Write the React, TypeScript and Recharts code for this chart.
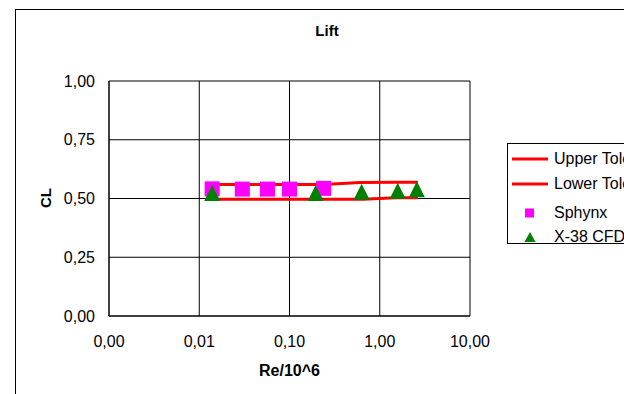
// Lift — CL ueber Re/10^6 (log), Toleranzband + Sphynx + X-38 CFD
import {
  ScatterChart, Scatter, XAxis, YAxis, CartesianGrid,
} from 'recharts'

// Reynolds-Zahlen (Re/10^6) und CL-Werte
const upperRe = [0.0125, 0.24, 0.6, 1.6, 2.65]
const upperCl = [0.56, 0.56, 0.568, 0.569, 0.569]
const lowerRe = [0.0125, 0.65, 1.5, 2.65]
const lowerCl = [0.497, 0.497, 0.503, 0.503]
const sphynxRe = [0.0139, 0.03, 0.057, 0.1, 0.239]
const sphynxCl = [0.541, 0.54, 0.54, 0.54, 0.543]
const cfdRe = [0.0139, 0.195, 0.63, 1.58, 2.58]
const cfdCl = [0.523, 0.523, 0.529, 0.533, 0.539]

const xTicks = [0.001, 0.01, 0.1, 1, 10]
const yTicks = [0, 0.25, 0.5, 0.75, 1]

const FONT = '"Liberation Sans", Arial, sans-serif'
const RED = '#ff0000'
const MAGENTA = '#ff00ff'
const GREEN = '#008000'

const toPoints = (xs: number[], ys: number[]) => xs.map((x, i) => ({ x, y: ys[i] }))
const fmt = (v: number) => v.toFixed(2).replace('.', ',')

const Square = (props: any) => {
  const { cx, cy } = props
  const s = 15
  return <rect x={cx - s / 2} y={cy - s / 2} width={s} height={s} fill={MAGENTA} />
}

const Triangle = (props: any) => {
  const { cx, cy } = props
  const w = 16
  const h = 16
  return (
    <polygon
      points={`${cx},${cy - h / 2} ${cx + w / 2},${cy + h / 2} ${cx - w / 2},${cy + h / 2}`}
      fill={GREEN}
    />
  )
}

const NoShape = () => <g />

const legendItems = [
  { name: 'Upper Tolerance', kind: 'line' },
  { name: 'Lower Tolerance', kind: 'line' },
  { name: 'Sphynx', kind: 'square' },
  { name: 'X-38 CFD', kind: 'triangle' },
]
const rowY = [15, 40, 69, 93]

// Legende als eigener Kasten, ragt wie im Original ueber den rechten Rand
const LegendBox = () => (
  <div style={{ position: 'absolute', left: 507, top: 143, width: 200, height: 101, border: '1px solid #000', boxSizing: 'border-box', fontFamily: FONT, fontSize: 16 }}>
    <svg width={50} height={101} style={{ position: 'absolute', left: 0, top: 0 }}>
      {legendItems.map((it, i) => {
        const y = rowY[i]
        if (it.kind === 'line') return <line key={i} x1={4} x2={40} y1={y} y2={y} stroke={RED} strokeWidth={3} />
        if (it.kind === 'square') return <rect key={i} x={17} y={y - 4.5} width={9} height={9} fill={MAGENTA} />
        return <polygon key={i} points={`22,${y - 5} 27.5,${y + 5} 16.5,${y + 5}`} fill={GREEN} />
      })}
    </svg>
    {legendItems.map((it, i) => (
      <div key={i} style={{ position: 'absolute', left: 46, top: rowY[i] - 10, whiteSpace: 'nowrap', lineHeight: '20px' }}>
        {it.name}
      </div>
    ))}
  </div>
)

export default function App() {
  return (
    <div style={{ position: 'absolute', left: 0, top: 0, width: 624, height: 394, overflow: 'hidden', background: '#fff', fontFamily: FONT }}>
      <div style={{ position: 'absolute', left: 15, top: 9, width: 700, height: 500, border: '1px solid #000' }} />
      <div style={{ position: 'absolute', left: 0, width: 654, top: 21, lineHeight: '20px', textAlign: 'center', fontWeight: 'bold', fontSize: 15 }}>Lift</div>
      <div style={{ position: 'absolute', left: 46, top: 198, transform: 'translate(-50%, -50%) rotate(-90deg)', fontWeight: 'bold', fontSize: 15, lineHeight: '18px' }}>CL</div>
      <div style={{ position: 'absolute', left: 0, width: 579, top: 361, lineHeight: '20px', textAlign: 'center', fontWeight: 'bold', fontSize: 16 }}>Re/10^6</div>
      <div style={{ position: 'absolute', left: 0, top: 0 }}>
        <ScatterChart width={624} height={394} margin={{ top: 81, right: 154, bottom: 0, left: 49 }}>
          <CartesianGrid stroke="#000" strokeWidth={1} />
          <XAxis
            dataKey="x"
            type="number"
            scale="log"
            domain={[0.001, 10]}
            ticks={xTicks}
            allowDataOverflow
            tickFormatter={fmt}
            height={78}
            tickLine={false}
            tickMargin={14}
            axisLine={{ stroke: '#000' }}
            tick={{ fill: '#000', fontSize: 16, fontFamily: FONT }}
          />
          <YAxis
            dataKey="y"
            type="number"
            domain={[0, 1]}
            ticks={yTicks}
            tickFormatter={fmt}
            width={60}
            tickLine={false}
            tickMargin={8}
            axisLine={{ stroke: '#000' }}
            tick={{ fill: '#000', fontSize: 16, fontFamily: FONT }}
          />
          <Scatter name="Upper Tolerance" data={toPoints(upperRe, upperCl)} line={{ stroke: RED, strokeWidth: 3 }} lineType="joint" shape={NoShape} isAnimationActive={false} />
          <Scatter name="Lower Tolerance" data={toPoints(lowerRe, lowerCl)} line={{ stroke: RED, strokeWidth: 3 }} lineType="joint" shape={NoShape} isAnimationActive={false} />
          <Scatter name="Sphynx" data={toPoints(sphynxRe, sphynxCl)} shape={Square} isAnimationActive={false} />
          <Scatter name="X-38 CFD" data={toPoints(cfdRe, cfdCl)} shape={Triangle} isAnimationActive={false} />
        </ScatterChart>
      </div>
      <LegendBox />
    </div>
  )
}
